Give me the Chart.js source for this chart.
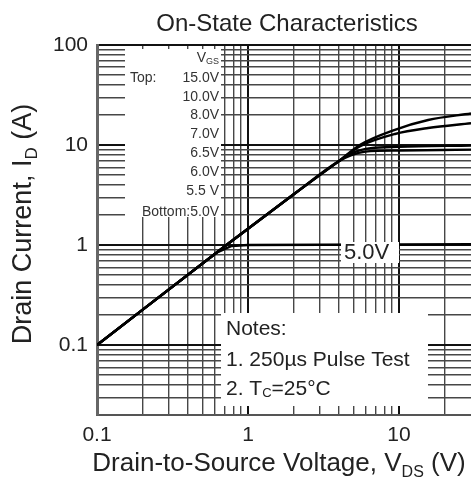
<!DOCTYPE html>
<html>
<head>
<meta charset="utf-8">
<script src="https://cdn.jsdelivr.net/npm/chart.js@4"></script>
<style>
html, body { margin: 0; padding: 0; background: #fff; }
#wrap { width: 471px; height: 486px; }
</style>
</head>
<body>
<div id="wrap"><canvas id="onState" width="471" height="486"></canvas></div>
<script>
// Legend entries of the gate voltages (box at top left)
const vgsLegend = ['15.0V', '10.0V', '8.0V', '7.0V', '6.5V', '6.0V', '5.5 V'];

// Curves: VDS (V) and ID (A)
const vds15 = [0.1, 0.72, 2.0, 4.0, 5.5, 9.4, 15.6, 30];
const id15  = [0.1, 1.0, 3.2, 6.9, 10.0, 14.2, 17.8, 20.7];
const vds10 = [0.1, 0.72, 2.0, 4.0, 5.5, 9.4, 15.6, 30];
const id10  = [0.1, 1.0, 3.2, 6.9, 9.7, 12.9, 14.8, 16.5];
const vds8  = [0.1, 0.72, 2.0, 4.0, 5.0, 6.5, 10, 30];
const id8   = [0.1, 1.0, 3.2, 6.9, 8.4, 9.3, 9.6, 9.9];
const vds7  = [0.1, 0.72, 2.0, 4.0, 4.8, 6.0, 10, 30];
const id7   = [0.1, 1.0, 3.2, 6.9, 7.9, 8.6, 8.8, 9.0];
const vds5  = [0.1, 0.62, 0.78, 1.0, 30];
const id5   = [0.1, 0.84, 0.98, 1.0, 1.02];

// Axis ranges and labelled ticks
const xMin = 0.1, xMax = 30;
const yMin = 0.02, yMax = 100;
const xTickLabels = [0.1, 1, 10];
const yTickLabels = [0.1, 1, 10, 100];
const xDecades = [0.1, 1, 10];
const yDecades = [0.01, 0.1, 1, 10, 100];

const FONT = '"Liberation Sans", Arial, sans-serif';
const TEXT = '#222';

function logGrid(decades, lo, hi) {
    const out = [];
    decades.forEach(d => {
        for (let m = 1; m <= 9; m++) {
            const v = m * d;
            if (v >= lo - 1e-9 && v < hi - 1e-9) out.push({ value: v });
        }
    });
    if (decades.includes(hi)) out.push({ value: hi });
    return out;
}

function isDecade(v) {
    const l = Math.log10(v);
    return Math.abs(l - Math.round(l)) < 1e-6;
}

// draws text made of [string, isSubscript] parts
function rich(ctx, parts, x, y, size, align) {
    const subSize = Math.round(size * 0.62);
    let w = 0;
    parts.forEach(p => {
        ctx.font = (p[1] ? subSize : size) + 'px ' + FONT;
        w += ctx.measureText(p[0]).width;
    });
    let cx = align === 'center' ? x - w / 2 : (align === 'right' ? x - w : x);
    ctx.textAlign = 'left';
    parts.forEach(p => {
        ctx.font = (p[1] ? subSize : size) + 'px ' + FONT;
        ctx.fillText(p[0], cx, p[1] ? y + size * 0.22 : y);
        cx += ctx.measureText(p[0]).width;
    });
}

const textPlugin = {
    id: 'texts',
    afterDatasetsDraw(chart) {
        const ctx = chart.ctx;
        ctx.save();

        // white boxes over the grid
        ctx.fillStyle = '#fff';
        ctx.fillRect(125, 49, 96, 168);
        ctx.fillRect(221, 313, 207, 93);
        ctx.fillRect(341, 242, 58, 21);

        ctx.fillStyle = '#333';
        ctx.textBaseline = 'middle';

        // VGS legend
        rich(ctx, [['V', 0], ['GS', 1]], 219, 58, 14, 'right');
        ctx.font = '14px ' + FONT;
        ctx.textAlign = 'left';
        ctx.fillText('Top:', 130, 78);
        ctx.textAlign = 'right';
        vgsLegend.forEach((t, i) => ctx.fillText(t, 219, 78 + i * 18.8));
        ctx.fillText('Bottom:5.0V', 219, 212);

        // curve label
        ctx.fillStyle = TEXT;
        ctx.font = '22px ' + FONT;
        ctx.textAlign = 'left';
        ctx.fillText('5.0V', 344, 253);

        // notes
        ctx.font = '21px ' + FONT;
        ctx.fillText('Notes:', 226, 329);
        ctx.fillText('1. 250\u00b5s Pulse Test', 226, 360);
        rich(ctx, [['2. T', 0], ['C', 1], ['=25\u00b0C', 0]], 226, 389, 21, 'left');

        ctx.restore();
    },
    afterDraw(chart) {
        const ctx = chart.ctx;
        ctx.save();
        ctx.fillStyle = TEXT;
        ctx.textBaseline = 'alphabetic';

        ctx.font = '24px ' + FONT;
        ctx.textAlign = 'center';
        ctx.fillText('On-State Characteristics', 287, 31);

        rich(ctx, [['Drain-to-Source Voltage, V', 0], ['DS', 1], [' (V)', 0]], 279, 471, 26, 'center');

        ctx.translate(31, 224);
        ctx.rotate(-Math.PI / 2);
        rich(ctx, [['Drain Current, I', 0], ['D', 1], [' (A)', 0]], 0, 0, 27, 'center');
        ctx.restore();
    }
};

const curves = [
    { label: '15.0V', vds: vds15, id: id15, smooth: true },
    { label: '10.0V', vds: vds10, id: id10, smooth: true },
    { label: '8.0V', vds: vds8, id: id8, smooth: true },
    { label: '7.0V', vds: vds7, id: id7, smooth: true },
    { label: '5.0V', vds: vds5, id: id5, smooth: false }
];

const gridStyle = {
    drawTicks: false,
    color: c => (c.tick && isDecade(c.tick.value)) ? '#111' : '#474747',
    lineWidth: c => (c.tick && isDecade(c.tick.value)) ? 2 : 1.4
};

new Chart(document.getElementById('onState'), {
    type: 'line',
    data: {
        datasets: curves.map(c => ({
            label: c.label,
            data: c.vds.map((v, i) => ({ x: v, y: c.id[i] })),
            borderColor: '#000',
            borderWidth: 2.4,
            pointRadius: 0,
            fill: false,
            tension: 0,
            cubicInterpolationMode: c.smooth ? 'monotone' : 'default'
        }))
    },
    options: {
        responsive: false,
        animation: false,
        devicePixelRatio: 1,
        layout: { padding: { top: 45, left: 0, right: 0, bottom: 0 } },
        plugins: {
            legend: { display: false },
            title: { display: false },
            tooltip: { enabled: false }
        },
        scales: {
            x: {
                type: 'logarithmic',
                min: xMin,
                max: xMax,
                afterBuildTicks: s => { s.ticks = logGrid(xDecades, xMin, xMax); },
                afterFit: s => { s.height = 71; },
                grid: gridStyle,
                border: { display: true, color: '#555', width: 2 },
                ticks: {
                    autoSkip: false,
                    maxRotation: 0,
                    padding: 8,
                    color: TEXT,
                    font: { family: FONT, size: 21 },
                    callback: v => xTickLabels.includes(v) ? String(v) : ''
                }
            },
            y: {
                type: 'logarithmic',
                min: yMin,
                max: yMax,
                afterBuildTicks: s => { s.ticks = logGrid(yDecades, yMin, yMax); },
                afterFit: s => { s.width = 97; },
                grid: gridStyle,
                border: { display: true, color: '#666', width: 3 },
                ticks: {
                    autoSkip: false,
                    padding: 9,
                    color: TEXT,
                    font: { family: FONT, size: 21 },
                    callback: v => yTickLabels.includes(v) ? String(v) : ''
                }
            }
        }
    },
    plugins: [textPlugin]
});
</script>
</body>
</html>
